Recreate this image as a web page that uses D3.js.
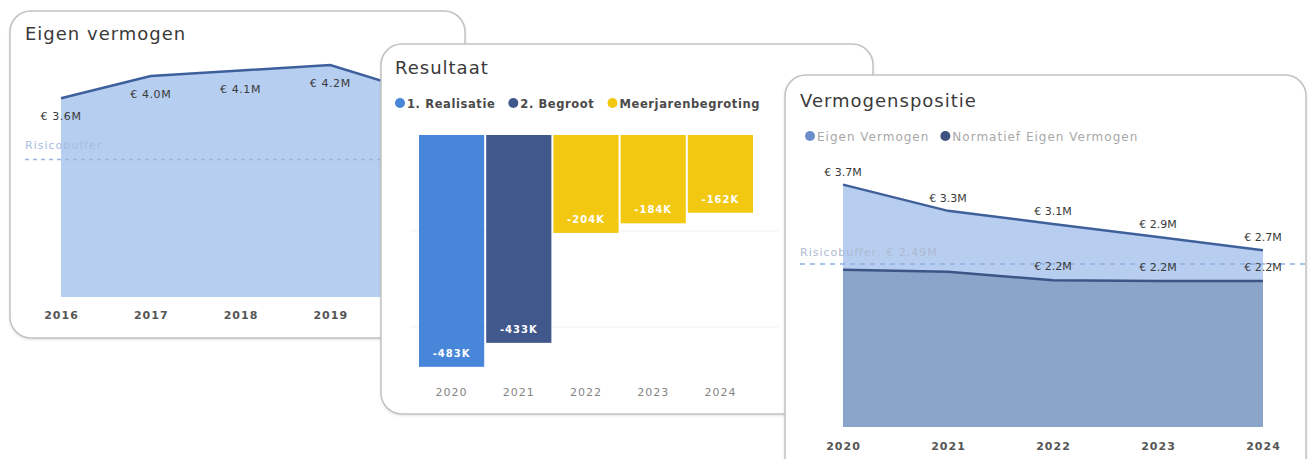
<!DOCTYPE html>
<html>
<head>
<meta charset="utf-8">
<script src="https://cdn.jsdelivr.net/npm/d3@7"></script>
<style>
  html, body { margin: 0; padding: 0; background: #ffffff; }
  svg { display: block; font-family: "DejaVu Sans", sans-serif; }
</style>
</head>
<body>
<svg id="chart" width="1309" height="459"></svg>
<script>
// ---------- DATA ----------
const evYears = ["2016", "2017", "2018", "2019", "2020"];
const evValues = [3.6, 4.0, 4.1, 4.2, 3.7];           // € M
const evRisicobuffer = 2.49;

const resYears = ["2020", "2021", "2022", "2023", "2024"];
const resValues = [-483, -433, -204, -184, -162];     // € K
const resSeries = ["1. Realisatie", "2. Begroot", "Meerjarenbegroting", "Meerjarenbegroting", "Meerjarenbegroting"];
const resLegend = ["1. Realisatie", "2. Begroot", "Meerjarenbegroting"];
const resGrid = [-200, -400];

const vpYears = ["2020", "2021", "2022", "2023", "2024"];
const vpEigen = [3.7, 3.3, 3.1, 2.9, 2.7];            // € M
const vpNormatief = [2.40, 2.37, 2.24, 2.23, 2.23];   // € M
const vpLegend = ["Eigen Vermogen", "Normatief Eigen Vermogen"];
const vpRisicobuffer = 2.49;

// ---------- HELPERS ----------
const svg = d3.select("#chart");
const defs = svg.append("defs");
const shadow = defs.append("filter").attr("id", "shadow")
  .attr("x", "-5%").attr("y", "-5%").attr("width", "110%").attr("height", "110%");
shadow.append("feDropShadow").attr("dx", 0).attr("dy", 1).attr("stdDeviation", 1.2)
  .attr("flood-color", "#000").attr("flood-opacity", 0.12);

function card(id, x, y, w, h) {
  defs.append("clipPath").attr("id", "clip-" + id)
    .append("rect").attr("x", x).attr("y", y).attr("width", w).attr("height", h).attr("rx", 21);
  const g = svg.append("g");
  g.append("rect").attr("x", x).attr("y", y).attr("width", w).attr("height", h).attr("rx", 21)
    .attr("fill", "#fff").attr("stroke", "#c2c2c2").attr("stroke-width", 1.5)
    .attr("filter", "url(#shadow)");
  const inner = g.append("g").attr("clip-path", "url(#clip-" + id + ")");
  return inner;
}
const euroM = v => "€ " + d3.format(".1f")(v) + "M";

// ---------- CARD 1: Eigen vermogen ----------
{
  const g = card("c1", 10, 11, 455, 327);
  g.append("text").attr("x", 25).attr("y", 40).text("Eigen vermogen")
    .attr("font-size", 18).attr("letter-spacing", 1).attr("fill", "#3a3a3a");

  const x = d3.scalePoint().domain(evYears).range([61, 420]);
  const y = d3.scaleLinear().domain([0, 4.4]).range([297, 54]);

  g.append("path").datum(evValues)
    .attr("d", d3.area().x((d, i) => x(evYears[i])).y0(y(0)).y1(d => y(d)))
    .attr("fill", "#b6cef0");
  g.append("path").datum(evValues)
    .attr("d", d3.line().x((d, i) => x(evYears[i])).y(d => y(d)))
    .attr("fill", "none").attr("stroke", "#3d5f9c").attr("stroke-width", 2.5);

  g.append("line").attr("x1", 25).attr("x2", 400)
    .attr("y1", y(evRisicobuffer)).attr("y2", y(evRisicobuffer))
    .attr("stroke", "#9cb5dc").attr("stroke-width", 1.5).attr("stroke-dasharray", "4,4");
  g.append("text").attr("x", 25).attr("y", y(evRisicobuffer) - 10).text("Risicobuffer")
    .attr("font-size", 11).attr("letter-spacing", 1).attr("fill", "#a6bde4");

  // the 2020 point lies under the "Resultaat" card, so only the visible years get a label
  const visible = evValues.map((v, i) => ({ v, i })).filter(d => x(evYears[d.i]) < 380);
  g.selectAll("text.lbl").data(visible).join("text").attr("class", "lbl")
    .attr("x", d => x(evYears[d.i])).attr("y", d => y(d.v) + 22)
    .attr("text-anchor", "middle").attr("font-size", 11).attr("letter-spacing", 0.6)
    .attr("fill", "#3a3a3a").text(d => euroM(d.v));

  const ax = g.append("g").attr("transform", "translate(0,309)")
    .call(d3.axisBottom(x).tickValues(evYears.filter(yr => x(yr) < 380)).tickSize(0).tickPadding(2));
  ax.select(".domain").remove();
  ax.selectAll("text").attr("font-size", 11).attr("font-weight", "bold")
    .attr("letter-spacing", 1).attr("fill", "#555").attr("font-family", "DejaVu Sans");
}

// ---------- CARD 2: Resultaat ----------
{
  const g = card("c2", 381, 44, 492, 370);
  g.append("text").attr("x", 395).attr("y", 74).text("Resultaat")
    .attr("font-size", 18).attr("letter-spacing", 1).attr("fill", "#3a3a3a");

  const color = d3.scaleOrdinal().domain(resLegend).range(["#4786d8", "#40588c", "#f2c811"]);

  // legend
  let lx = 400;
  resLegend.forEach(name => {
    g.append("circle").attr("cx", lx).attr("cy", 103).attr("r", 5).attr("fill", color(name));
    const t = g.append("text").attr("x", lx + 7).attr("y", 107.5).text(name)
      .attr("font-size", 11.5).attr("font-weight", "bold").attr("letter-spacing", 0.6)
      .attr("fill", "#4a4a4a");
    lx = lx + 7 + t.node().getComputedTextLength() + 18;
  });

  const x = d3.scaleBand().domain(resYears).range([419, 753]).paddingInner(0.03).paddingOuter(0);
  const y = d3.scaleLinear().domain([-500, 0]).range([375, 135]);

  g.selectAll("line.grid").data(resGrid).join("line").attr("class", "grid")
    .attr("x1", 410).attr("x2", 778).attr("y1", d => y(d)).attr("y2", d => y(d))
    .attr("stroke", "#f1f1f1").attr("stroke-width", 1);

  g.selectAll("rect.bar").data(resValues).join("rect").attr("class", "bar")
    .attr("x", (d, i) => x(resYears[i])).attr("width", x.bandwidth())
    .attr("y", y(0)).attr("height", d => y(d) - y(0))
    .attr("fill", (d, i) => color(resSeries[i]));

  g.selectAll("text.lbl").data(resValues).join("text").attr("class", "lbl")
    .attr("x", (d, i) => x(resYears[i]) + x.bandwidth() / 2).attr("y", d => y(d) - 10)
    .attr("text-anchor", "middle").attr("font-size", 10).attr("font-weight", "bold")
    .attr("letter-spacing", 1).attr("fill", "#fff").text(d => "-" + Math.abs(d) + "K");

  const ax = g.append("g").attr("transform", "translate(0,386)")
    .call(d3.axisBottom(x).tickSize(0).tickPadding(2));
  ax.select(".domain").remove();
  ax.selectAll("text").attr("font-size", 11).attr("letter-spacing", 1)
    .attr("fill", "#858585").attr("font-family", "DejaVu Sans");
}

// ---------- CARD 3: Vermogenspositie ----------
{
  const g = card("c3", 785, 75, 521, 420);
  g.append("text").attr("x", 800).attr("y", 107).text("Vermogenspositie")
    .attr("font-size", 18).attr("letter-spacing", 1).attr("fill", "#3a3a3a");

  const legendColors = ["#6b8ecb", "#3f5280"];
  let lx = 810;
  vpLegend.forEach((name, i) => {
    g.append("circle").attr("cx", lx).attr("cy", 136).attr("r", 5).attr("fill", legendColors[i]);
    const t = g.append("text").attr("x", lx + 7).attr("y", 140.5).text(name)
      .attr("font-size", 12).attr("letter-spacing", 1).attr("fill", "#a8a8a8");
    lx = lx + 7 + t.node().getComputedTextLength() + 16;
  });

  const x = d3.scalePoint().domain(vpYears).range([843, 1263]);
  const y = d3.scaleLinear().domain([0, 4]).range([427, 165]);

  g.append("path").datum(vpEigen)
    .attr("d", d3.area().x((d, i) => x(vpYears[i])).y0(y(0)).y1(d => y(d)))
    .attr("fill", "#b7cef1");
  g.append("path").datum(vpNormatief)
    .attr("d", d3.area().x((d, i) => x(vpYears[i])).y0(y(0)).y1(d => y(d)))
    .attr("fill", "#8ba4ca");

  g.append("line").attr("x1", 800).attr("x2", 1306)
    .attr("y1", y(vpRisicobuffer)).attr("y2", y(vpRisicobuffer))
    .attr("stroke", "#8fb0e2").attr("stroke-width", 1.5).attr("stroke-dasharray", "5,5");
  g.append("text").attr("x", 800).attr("y", y(vpRisicobuffer) - 8)
    .text("Risicobuffer: € " + d3.format(".2f")(vpRisicobuffer) + "M")
    .attr("font-size", 11).attr("letter-spacing", 1).attr("fill", "#aebad0");

  g.append("path").datum(vpEigen)
    .attr("d", d3.line().x((d, i) => x(vpYears[i])).y(d => y(d)))
    .attr("fill", "none").attr("stroke", "#3f609b").attr("stroke-width", 2.5);
  g.append("path").datum(vpNormatief)
    .attr("d", d3.line().x((d, i) => x(vpYears[i])).y(d => y(d)))
    .attr("fill", "none").attr("stroke", "#3b5686").attr("stroke-width", 2.5);

  g.selectAll("text.lblE").data(vpEigen).join("text").attr("class", "lblE")
    .attr("x", (d, i) => x(vpYears[i])).attr("y", d => y(d) - 9)
    .attr("text-anchor", "middle").attr("font-size", 11)
    .attr("fill", "#3a3a3a").text(euroM);

  g.selectAll("text.lblN").data(vpNormatief.map((v, i) => ({ v, i })).filter(d => d.i >= 2))
    .join("text").attr("class", "lblN")
    .attr("x", d => x(vpYears[d.i])).attr("y", d => y(d.v) - 10)
    .attr("text-anchor", "middle").attr("font-size", 11)
    .attr("fill", "#3a3a3a").text(d => euroM(d.v));

  const ax = g.append("g").attr("transform", "translate(0,440)")
    .call(d3.axisBottom(x).tickSize(0).tickPadding(2));
  ax.select(".domain").remove();
  ax.selectAll("text").attr("font-size", 11).attr("font-weight", "bold")
    .attr("letter-spacing", 1).attr("fill", "#555").attr("font-family", "DejaVu Sans");
}
</script>
</body>
</html>
